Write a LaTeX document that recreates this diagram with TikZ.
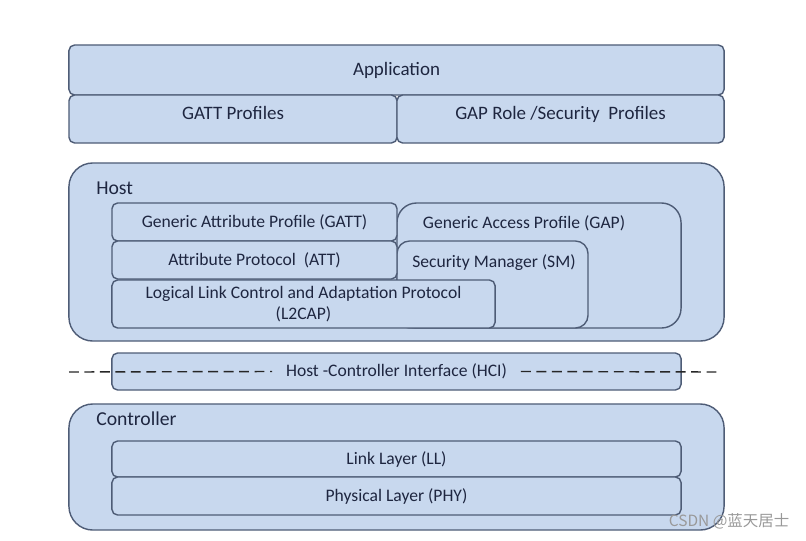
\documentclass[tikz,border=0pt]{standalone}
\usepackage{fontspec}
\setmainfont{Carlito}
\newfontfamily\cjkfont{Noto Sans CJK SC}
\usepackage{tikz}

\definecolor{boxfill}{RGB}{200,216,238}
\definecolor{boxline}{RGB}{78,92,118}
\definecolor{boxtext}{RGB}{30,38,64}

\tikzset{
  layer/.style={draw=boxline, fill=boxfill, line width=1pt, rounded corners=4pt,
    inner sep=0pt, outer sep=0pt, text=boxtext, font=\fontsize{13.5}{16}\selectfont},
  sublayer/.style={layer, font=\fontsize{12.5}{15}\selectfont},
  group/.style={layer, rounded corners=17pt},
  title/.style={text=boxtext, font=\fontsize{14}{16}\selectfont, anchor=west, inner sep=0pt},
}

\begin{document}
\begin{tikzpicture}[x=0.025cm, y=-0.025cm]
    \useasboundingbox (0,0) rectangle (806,540);
    % upper part
    \node[layer, minimum width=16.375cm, minimum height=1.25cm] (app) at (396.5,70) {\raisebox{-2.8pt}{Application}};
    \node[layer, minimum width=8.2cm, minimum height=1.2cm] (gattprof) at (233,119) {\raisebox{8.5pt}{GATT Profiles}};
    \node[layer, minimum width=8.175cm, minimum height=1.2cm] (gapprof) at (560.5,119) {\raisebox{8.5pt}{GAP Role /Security\ \ Profiles}};

    % host
    \node[group, minimum width=16.375cm, minimum height=4.45cm] (host) at (396.5,252) {};
    \node[title] (hostlbl) at (96,188) {Host};
    \node[sublayer, rounded corners=14pt, minimum width=7.1cm, minimum height=3.125cm] (gap) at (539,265.5) {};
    \node[sublayer, draw=none, fill=none] (gaplbl) at (524,223) {Generic Access Profile (GAP)};
    \node[sublayer, rounded corners=9pt, minimum width=4.775cm, minimum height=2.175cm] (sm) at (492.5,284.5) {};
    \node[sublayer, draw=none, fill=none] (smlbl) at (494,263) {Security Manager (SM)};
    \node[sublayer, minimum width=7.125cm, minimum height=0.95cm] (gatt) at (254.5,222) {Generic Attribute Profile (GATT)};
    \node[sublayer, minimum width=7.125cm, minimum height=0.95cm] (att) at (254.5,260) {Attribute Protocol\ \ (ATT)};
    \node[sublayer, minimum width=9.575cm, minimum height=1.2cm, align=center] (l2cap) at (303.5,304)
      {Logical Link Control and Adaptation Protocol\\(L2CAP)};

    % hci
    \node[sublayer, minimum width=14.225cm, minimum height=0.925cm] (hci) at (396.5,371.5) {};
    \node[sublayer, draw=none, fill=none, inner sep=10pt] (hcilbl) at (hci.center) {Host -Controller Interface (HCI)};
    \coordinate (hcil) at (69,372);
    \coordinate (hcir) at (720,372);
    \draw[black!85, line width=1pt, dash pattern=on 7pt off 4pt] (hcil) -- (hcilbl.west);
    \draw[black!85, line width=1pt, dash pattern=on 7pt off 4pt] (hcilbl.east) -- (hcir);

    % controller
    \node[group, minimum width=16.375cm, minimum height=3.15cm] (ctrl) at (396.5,467) {};
    \node[title] (ctrllbl) at (96,419) {Controller};
    \node[sublayer, minimum width=14.225cm, minimum height=0.9cm] (ll) at (396.5,459) {Link Layer (LL)};
    \node[sublayer, minimum width=14.225cm, minimum height=0.95cm] (phy) at (396.5,496) {Physical Layer (PHY)};

    \node[text=gray!80, font=\cjkfont\fontsize{11}{13}\selectfont, anchor=east, inner sep=1pt] (mark) at (791,521) {CSDN @蓝天居士};
\end{tikzpicture}
\end{document}
